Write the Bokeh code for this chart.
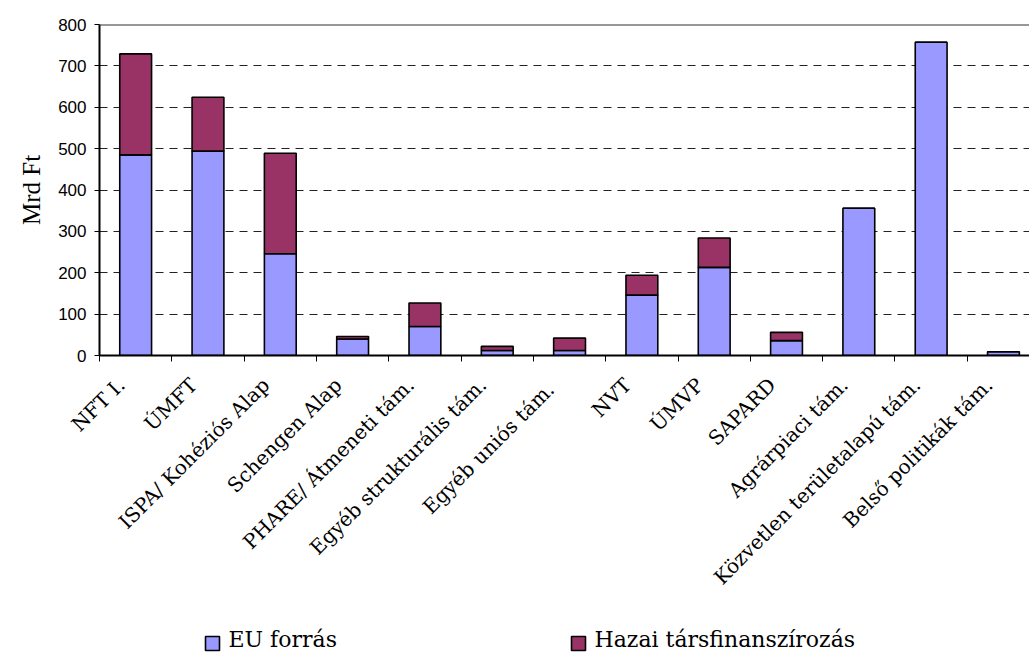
from bokeh.plotting import figure
from bokeh.layouts import column
from bokeh.models import (Range1d, FixedTicker, Span, ColumnDataSource, Title)
from bokeh.core.properties import value
from bokeh.embed import file_html
from bokeh.resources import INLINE
import math

categories = ["NFT I.", "ÚMFT", "ISPA/ Kohéziós Alap", "Schengen Alap",
              "PHARE/ Átmeneti tám.", "Egyéb strukturális tám.",
              "Egyéb  uniós tám.", "NVT", "ÚMVP", "SAPARD",
              "Agrárpiaci tám.", "Közvetlen területalapú tám.",
              "Belső politikák tám."]
eu_forras = [485, 494, 246, 40, 70, 12, 12, 146, 213, 36, 356, 757, 9]
hazai = [244, 130, 243, 6, 57, 10, 30, 48, 71, 20, 0, 0, 0]

series_names = ["EU forrás", "Hazai társfinanszírozás"]
series_colors = ["#9999FF", "#993366"]

x_pos = list(range(len(categories)))
src = ColumnDataSource(dict(x=x_pos, eu=eu_forras, hazai=hazai))

p = figure(width=1029, height=600, output_backend="svg", toolbar_location=None,
           x_range=Range1d(-0.5, 12.36), y_range=Range1d(0, 800),
           min_border_left=99, min_border_right=0, min_border_top=24,
           min_border_bottom=245, outline_line_color=None,
           background_fill_color="white", border_fill_color="white")

p.vbar_stack(["eu", "hazai"], x="x", width=0.44, source=src,
             fill_color=series_colors, line_color="black", line_width=1.6)

# frame top edge
p.add_layout(Span(location=800, dimension="width", line_color="#333333",
                  line_width=2))

# y axis
p.yaxis.ticker = FixedTicker(ticks=list(range(0, 801, 100)))
p.yaxis.major_label_text_font = "Liberation Sans"
p.yaxis.major_label_text_font_size = "17px"
p.yaxis.major_label_text_color = "black"
p.yaxis.major_label_standoff = 8
p.yaxis.major_tick_in = 0
p.yaxis.major_tick_out = 5
p.yaxis.minor_tick_line_color = None
p.yaxis.axis_line_color = "black"
p.yaxis.axis_line_width = 2
p.yaxis.major_tick_line_color = "black"

# unit label on the left
p.add_layout(Title(text="Mrd Ft", align="center", standoff=22,
                   text_font="Liberation Serif", text_font_size="25px",
                   text_font_style="normal", text_color="black"), "left")

# x axis: rotated labels hang just left of each bar, tick marks between categories
label_shift = 0.2
label_ticks = [round(i - label_shift, 2) for i in x_pos]
p.xaxis.ticker = FixedTicker(ticks=label_ticks,
                             minor_ticks=[i - 0.5 for i in range(len(categories) + 1)])
p.xaxis.major_label_overrides = {t: c for t, c in zip(label_ticks, categories)}
p.xaxis.major_label_orientation = math.pi / 4
p.xaxis.major_label_text_font = "DejaVu Serif"
p.xaxis.major_label_text_font_size = "20px"
p.xaxis.major_label_text_color = "black"
p.xaxis.major_label_standoff = 20
p.xaxis.major_tick_out = 0
p.xaxis.major_tick_in = 0
p.xaxis.minor_tick_out = 6
p.xaxis.minor_tick_in = 0
p.xaxis.minor_tick_line_color = "black"
p.xaxis.minor_tick_line_width = 1
p.xaxis.axis_line_color = "black"
p.xaxis.axis_line_width = 2

p.xgrid.grid_line_color = None
p.ygrid.grid_line_color = "#222222"
p.ygrid.grid_line_dash = "8 6"
p.ygrid.grid_line_width = 1

# legend strip below the chart; its frame lines up with the chart frame,
# so the x range is given in page pixels from x=99
lg = figure(width=1029, height=52, output_backend="svg", toolbar_location=None,
            x_range=Range1d(99, 1029), y_range=Range1d(0, 52),
            x_axis_type=None, y_axis_type=None,
            min_border=0, outline_line_color=None,
            background_fill_color="white", border_fill_color="white")
lg.grid.visible = False

key_x = [212, 578]
lg.rect(x=key_x, y=[9, 9], width=14, height=14, fill_color=series_colors,
        line_color="black", line_width=1.6)
lg.text(x=[k + 16 for k in key_x], y=[13, 13], text=series_names,
        text_font=value("DejaVu Serif"), text_font_size="22px",
        text_color="black", text_baseline="middle", text_align="left")

layout = column(p, lg, spacing=0)
open("out.html", "w").write(file_html(layout, INLINE))
